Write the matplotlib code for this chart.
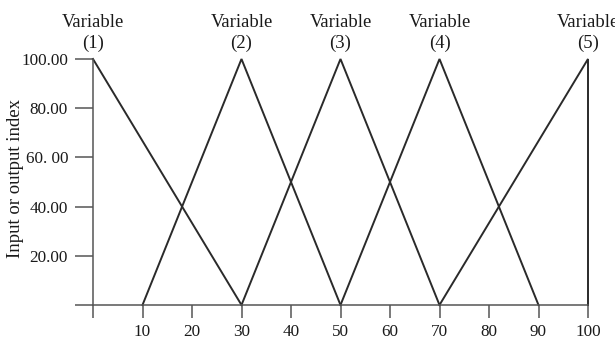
import matplotlib
matplotlib.use("Agg")
import matplotlib.pyplot as plt

# Data: membership-function style lines (x, y) per variable
var1_x = [0, 30]
var1_y = [100, 0]
var2_x = [10, 30, 50]
var2_y = [0, 100, 0]
var3_x = [30, 50, 70]
var3_y = [0, 100, 0]
var4_x = [50, 70, 90]
var4_y = [0, 100, 0]
var5_x = [70, 100, 100]
var5_y = [0, 100, 0]

peak_positions = [0, 30, 50, 70, 100]
peak_labels = ["Variable\n(1)", "Variable\n(2)", "Variable\n(3)", "Variable\n(4)", "Variable\n(5)"]

x_ticks = [0, 10, 20, 30, 40, 50, 60, 70, 80, 90, 100]
x_tick_labels = ["", "10", "20", "30", "40", "50", "60", "70", "80", "90", "100"]
y_ticks = [0, 20, 40, 60, 80, 100]
y_tick_labels = ["", "20.00", "40.00", "60. 00", "80.00", "100.00"]

plt.rcParams['font.family'] = ['Liberation Serif', 'DejaVu Serif']

fig = plt.figure(figsize=(6.15, 3.39), dpi=100)
ax = fig.add_axes([93/615, 1 - 305/339, (588 - 93)/615, (305 - 59)/339])

line_color = "#2a2a2a"
for xs, ys in [(var1_x, var1_y), (var2_x, var2_y), (var3_x, var3_y),
               (var4_x, var4_y), (var5_x, var5_y)]:
    ax.plot(xs, ys, color=line_color, lw=1.4, clip_on=False, solid_joinstyle='miter')

ax.set_xlim(0, 100)
ax.set_ylim(0, 100)

axis_color = "#555555"
for s in ["top", "right"]:
    ax.spines[s].set_visible(False)
for s in ["left", "bottom"]:
    ax.spines[s].set_color(axis_color)
    ax.spines[s].set_linewidth(1.1)

tick_fs = 12.3
ax.set_xticks(x_ticks)
ax.set_xticklabels(x_tick_labels)
ax.set_yticks(y_ticks)
ax.set_yticklabels(y_tick_labels)
ax.tick_params(axis='both', colors=axis_color, labelcolor="#1a1a1a",
               labelsize=tick_fs, width=1.1)
ax.tick_params(axis='x', length=9, direction='out', pad=5)
ax.tick_params(axis='y', length=13, direction='out', pad=5)

fig.text(7/615, 1 - 179/339, "Input or output index", rotation=90,
         ha='left', va='center', fontsize=13.5, color="#1a1a1a")

for xp, lab in zip(peak_positions, peak_labels):
    ax.annotate(lab, xy=(xp, 100), xytext=(0, 5), textcoords='offset points',
                ha='center', va='bottom', fontsize=13.4, color="#1a1a1a",
                linespacing=1.3, annotation_clip=False)

fig.savefig("out.png", dpi=100)
